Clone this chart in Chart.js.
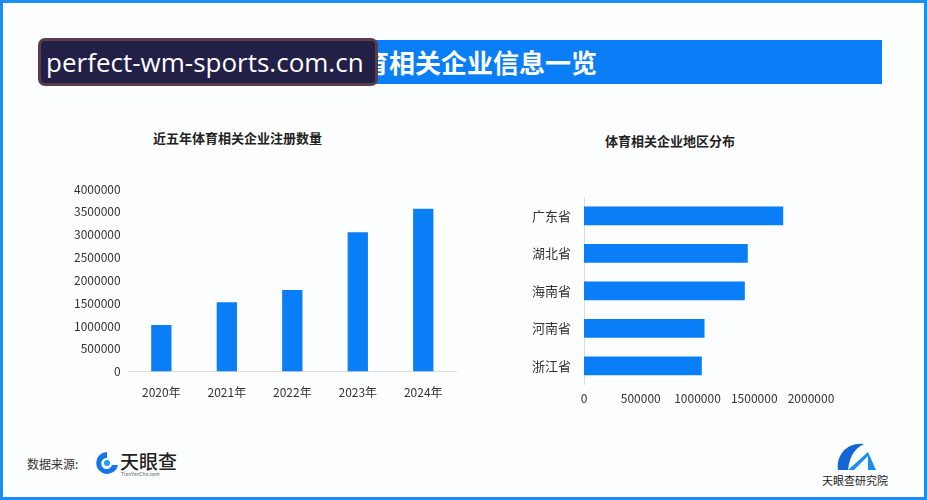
<!DOCTYPE html>
<html>
<head>
<meta charset="utf-8">
<script src="https://cdn.jsdelivr.net/npm/chart.js@4/dist/chart.umd.min.js"></script>
<style>
  html, body { margin: 0; padding: 0; }
  body {
    width: 927px; height: 500px; position: relative; overflow: hidden;
    background: #fdfeff; font-family: "Noto Sans CJK SC", "Noto Sans", sans-serif;
  }
  .frame { position: absolute; left: 0; top: 0; width: 921px; height: 494px; border: 3px solid #1a8ff0; }
  .band { position: absolute; left: 40px; top: 40px; width: 842px; height: 44px; background: #0a7ef7; }
  .band span { position: absolute; left: 297px; top: 3px; color: #fff; font-size: 26px; font-weight: bold; white-space: nowrap; }
  .mark {
    position: absolute; left: 38px; top: 38px; width: 329px; height: 42px;
    background: #232048; border: 3px solid #5b3c48; border-radius: 7px;
    color: #fff; font-family: "Open Sans", sans-serif; font-size: 26px; line-height: 42px; padding-left: 5px;
    white-space: nowrap; overflow: visible;
  }
  .ctitle { position: absolute; font-size: 13px; font-weight: bold; color: #222; white-space: nowrap; }
  .box { position: absolute; }
  #left { left: 20px; top: 118px; width: 460px; height: 288px; }
  #right { left: 500px; top: 122px; width: 360px; height: 289px; }
  .src { position: absolute; left: 27px; top: 455px; font-size: 12px; color: #333; }
  .logo1 { position: absolute; left: 95px; top: 450px; }
  .logo1 b { position: absolute; left: 25px; top: -3px; font-size: 19px; color: #222; font-weight: 500; white-space: nowrap; }
  .logo1 i { position: absolute; left: 26px; top: 20px; font-size: 5px; color: #555; font-style: normal; white-space: nowrap; }
  .logo2 { position: absolute; left: 820px; top: 440px; width: 66px; }
  .logo2 span { position: absolute; left: 2px; top: 32px; font-size: 11px; color: #222; white-space: nowrap; }
</style>
</head>
<body>
<div class="frame"></div>
<div class="band"><span>体育相关企业信息一览</span></div>
<div class="mark">perfect-wm-sports.com.cn</div>

<div class="ctitle" style="left:153px; top:128px;">近五年体育相关企业注册数量</div>
<div class="ctitle" style="left:605px; top:131px;">体育相关企业地区分布</div>

<div class="box" id="left"><canvas id="yearChart"></canvas></div>
<div class="box" id="right"><canvas id="regionChart"></canvas></div>

<div class="src">数据来源:</div>
<div class="logo1">
  <svg width="24" height="26" viewBox="0 0 24 26">
    <path d="M12 2 A11 11 0 1 0 23 15 L17 15 A5.5 5.5 0 1 1 12 8 Z" fill="#1476e8"/>
    <circle cx="12" cy="13" r="3" fill="#1aa0f0"/>
  </svg>
  <b>天眼查</b>
  <i>TianYanCha.com</i>
</div>
<div class="logo2">
  <svg width="44" height="32" viewBox="0 0 44 32" style="position:absolute;left:14px;top:0">
    <path d="M4 30 C2 14 14 2 30 4 C22 8 16 14 14 30 Z" fill="#1466d6"/>
    <path d="M14 30 L34 12 L42 30 Z" fill="#1a8ff0"/>
    <path d="M20 30 L34 16 L34 30 Z" fill="#fff"/>
  </svg>
  <span>天眼查研究院</span>
</div>

<script>
const years = ['2020年', '2021年', '2022年', '2023年', '2024年'];
const registrations = [1020000, 1520000, 1790000, 3050000, 3570000];

const regions = ['广东省', '湖北省', '海南省', '河南省', '浙江省'];
const regionCounts = [1755000, 1443000, 1417000, 1062000, 1038000];

const barBlue = '#0a7ef7';
const tickFont = { family: '"Noto Sans CJK SC", sans-serif', size: 12 };
const plain = (v) => String(v);

Chart.defaults.color = '#333';
Chart.defaults.animation = false;

new Chart(document.getElementById('yearChart'), {
    type: 'bar',
    data: {
        labels: years,
        datasets: [{
            data: registrations,
            backgroundColor: barBlue,
            barPercentage: 0.31,
            categoryPercentage: 1.0
        }]
    },
    options: {
        responsive: true,
        maintainAspectRatio: false,
        layout: { padding: { left: 54, right: 24, top: 71, bottom: 0 } },
        plugins: {
            legend: { display: false },
            tooltip: { enabled: false }
        },
        scales: {
            x: {
                grid: { display: false },
                border: { color: '#dcdcdc' },
                ticks: { font: tickFont, padding: 6, maxRotation: 0 }
            },
            y: {
                min: 0,
                max: 4000000,
                grid: { display: false },
                border: { display: false },
                ticks: { stepSize: 500000, font: tickFont, padding: 0, callback: plain }
            }
        }
    }
});

new Chart(document.getElementById('regionChart'), {
    type: 'bar',
    data: {
        labels: regions,
        datasets: [{
            data: regionCounts,
            backgroundColor: barBlue,
            barPercentage: 0.5,
            categoryPercentage: 1.0
        }]
    },
    options: {
        indexAxis: 'y',
        responsive: true,
        maintainAspectRatio: false,
        layout: { padding: { left: 27, right: 49, top: 75, bottom: 0 } },
        plugins: {
            legend: { display: false },
            tooltip: { enabled: false }
        },
        scales: {
            x: {
                min: 0,
                max: 2000000,
                grid: { display: false, tickLength: 2 },
                border: { display: false },
                ticks: { stepSize: 500000, font: tickFont, padding: 5, callback: plain,
                         maxRotation: 0, minRotation: 0, autoSkip: false }
            },
            y: {
                grid: { display: false },
                border: { color: '#dcdcdc' },
                ticks: { font: { family: '"Noto Sans CJK SC", sans-serif', size: 13 }, padding: 5 }
            }
        }
    }
});
</script>
</body>
</html>
